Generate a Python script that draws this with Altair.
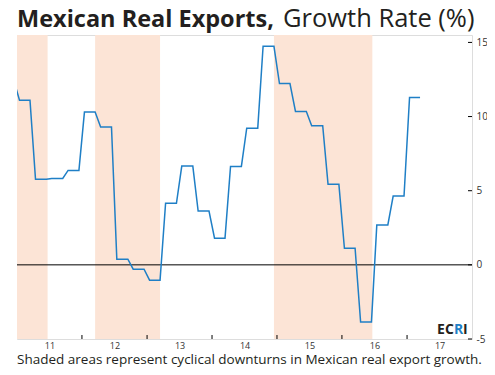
import altair as alt
import pandas as pd

# Quarterly growth rate (%) values, Q4 2010 .. Q1 2017
quarters = ["2010-Q4",
            "2011-Q1", "2011-Q2", "2011-Q3", "2011-Q4",
            "2012-Q1", "2012-Q2", "2012-Q3", "2012-Q4",
            "2013-Q1", "2013-Q2", "2013-Q3", "2013-Q4",
            "2014-Q1", "2014-Q2", "2014-Q3", "2014-Q4",
            "2015-Q1", "2015-Q2", "2015-Q3", "2015-Q4",
            "2016-Q1", "2016-Q2", "2016-Q3", "2016-Q4",
            "2017-Q1"]
growth = [12.4,
          11.1, 5.77, 5.83, 6.37,
          10.3, 9.29, 0.38, -0.29,
          -1.03, 4.15, 6.66, 3.63,
          1.8, 6.64, 9.22, 14.74,
          12.23, 10.34, 9.38, 5.43,
          1.12, -3.86, 2.69, 4.64,
          11.29]

# Cyclical downturn periods (shaded)
shade_start = ["2010-12-01", "2012-03-15", "2014-12-15"]
shade_end = ["2011-06-22", "2013-03-15", "2016-06-20"]

year_ticks = ["2012-01-01", "2013-01-01", "2014-01-01", "2015-01-01", "2016-01-01", "2017-01-01"]
y_ticks = [-5, 0, 5, 10, 15]

# monthly series (each quarterly value held for its three months, dated mid-month)
rows = []
for q, v in zip(quarters, growth):
    yr, qq = q.split("-Q")
    first_month = (int(qq) - 1) * 3 + 1
    for m in range(first_month, first_month + 3):
        d = pd.Timestamp(int(yr), m, 15)
        if d < pd.Timestamp(2010, 12, 1):
            continue
        rows.append({"date": d.strftime("%Y-%m-%d"), "value": v})
line_df = pd.DataFrame(rows)
shade_df = pd.DataFrame({"start": shade_start, "end": shade_end})
tick_df = pd.DataFrame({"date": year_ticks})
ytick_df = pd.DataFrame({"v": y_ticks})

W, H = 455, 304
FONT = "Open Sans"
INK = "#231f20"

xscale = alt.Scale(type="utc",
                   domain=[alt.DateTime(year=2011, month=1, date=1, utc=True),
                           alt.DateTime(year=2018, month=1, date=1, utc=True)])
yscale = alt.Scale(domain=[-5, 15.5], nice=False, zero=False)

x_axis = alt.Axis(title=None, ticks=False, domain=False, grid=False,
                  values=[alt.DateTime(year=y, month=1, date=1, utc=True) for y in range(2011, 2018)],
                  format="%y", labelOffset=32.5, labelFlush=False, labelOverlap=False,
                  labelFont=FONT, labelFontSize=9, labelColor="#333333", labelPadding=2)
y_axis = alt.Axis(orient="right", title=None, ticks=False, domain=False, grid=False,
                  values=y_ticks, labelExpr="datum.value < 0 ? '-' + abs(datum.value) : datum.value",
                  labelFont=FONT, labelFontSize=10, labelColor="#333333", labelPadding=4)

shade = alt.Chart(shade_df).mark_rect(color="#fce4d6", clip=True).encode(
    x=alt.X("start:T", scale=xscale, axis=x_axis),
    x2="end:T",
    y=alt.value(0),
    y2=alt.value(H),
)

zero = alt.Chart(pd.DataFrame({"z": [0]})).mark_rule(color="black", strokeWidth=1).encode(
    y=alt.Y("z:Q", scale=yscale, axis=y_axis),
)

line = alt.Chart(line_df).mark_line(color="#1f7fc6", strokeWidth=1.5, clip=True).encode(
    x=alt.X("date:T", scale=xscale, axis=x_axis),
    y=alt.Y("value:Q", scale=yscale, axis=y_axis),
)

xt = alt.Chart(tick_df).mark_rule(color="black", strokeWidth=1).encode(
    x=alt.X("date:T", scale=xscale, axis=x_axis), y=alt.value(H - 4), y2=alt.value(H))

yt = alt.Chart(ytick_df).mark_rule(color="black", strokeWidth=1).encode(
    y=alt.Y("v:Q", scale=yscale, axis=y_axis), x=alt.value(W - 4), x2=alt.value(W))

def txt(s, x, y, size, weight="normal", color=INK, font=FONT, align="left"):
    return alt.Chart(pd.DataFrame({"t": [s]})).mark_text(
        text=s, align=align, baseline="alphabetic", fontSize=size, fontWeight=weight,
        color=color, font=font).encode(x=alt.value(x), y=alt.value(y))

title_b = txt("Mexican Real Exports,", 0, -8, 23.5, "bold")
title_n = txt("Growth Rate (%)", 266, -8, 25.5, "normal")
footer = txt("Shaded areas represent cyclical downturns in Mexican real export growth.", 0, 329, 13.5, "normal")
e1 = txt("E", 420, 299, 14, "bold")
e2 = txt("C", 428, 299, 14, "bold")
e3 = txt("R", 437, 299, 14, "bold", "#1f7fc6")
e4 = txt("I", 446, 299, 14, "bold")

chart = alt.layer(shade, zero, line, xt, yt, title_b, title_n, footer, e1, e2, e3, e4).properties(
    width=W, height=H,
    autosize=alt.AutoSizeParams(type="none"),
    padding={"left": 9, "top": 27, "right": 15, "bottom": 28},
).configure_view(stroke="black", strokeWidth=1).configure(background="white")

chart.save("out.html", embed_options={"renderer": "svg", "actions": False})
